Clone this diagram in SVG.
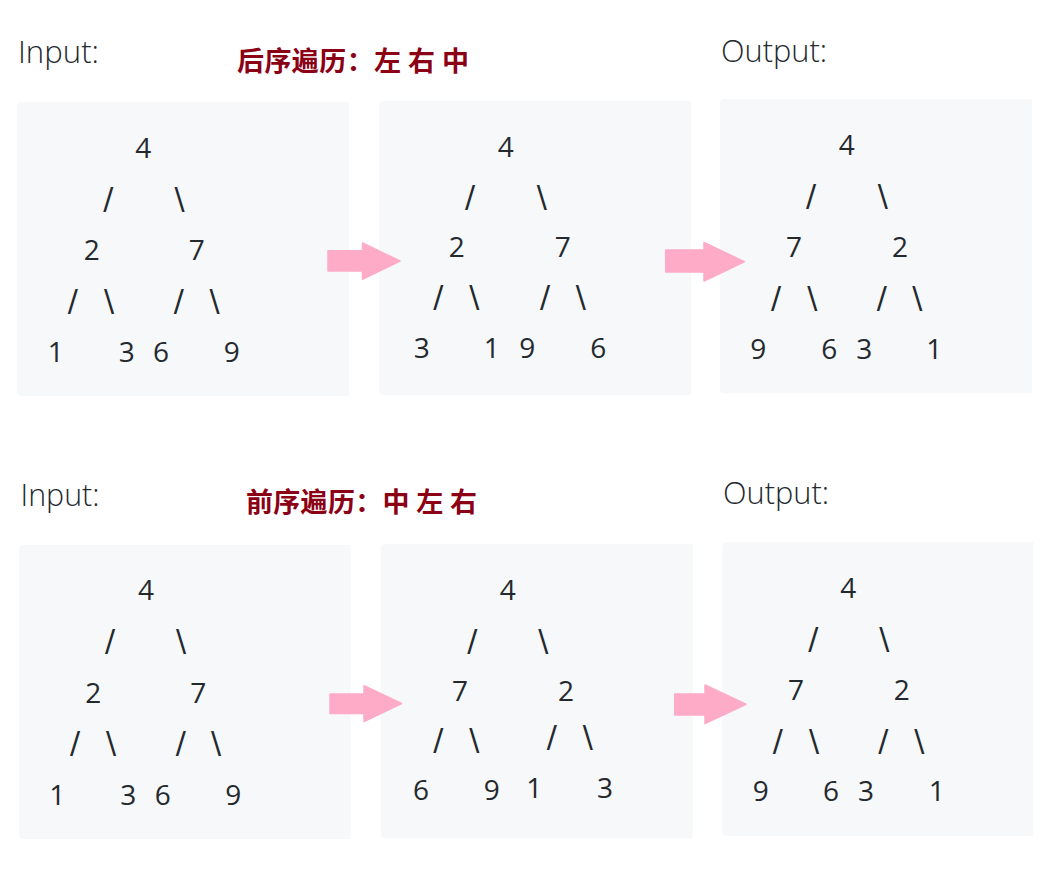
<svg xmlns="http://www.w3.org/2000/svg" width="1051" height="876" viewBox="0 0 1051 876">
<style>
.bg{fill:#ffffff}
.panel{fill:#f6f8fa}
.lbl{font-family:"Open Sans","Liberation Sans",sans-serif;font-weight:300;font-size:32px;fill:#24292e}
.ttl{font-family:"Noto Sans CJK SC","Noto Sans",sans-serif;font-weight:bold;font-size:27px;fill:#8b0014}
.d{font-family:"Open Sans","Liberation Sans",sans-serif;font-size:28px;fill:#24292e;text-anchor:middle}
.s{font-family:"DejaVu Sans",sans-serif;font-size:30px;fill:#24292e;text-anchor:middle}
.arrow{fill:#feabc8;stroke:#feabc8;stroke-width:1.5;stroke-linejoin:round}
</style>
<rect class="bg" x="0" y="0" width="1051" height="876"/>

<g id="labels">
<text class="lbl" x="18" y="62.5" textLength="81" lengthAdjust="spacingAndGlyphs">Input:</text>
<text class="lbl" x="721" y="61.5" textLength="106" lengthAdjust="spacingAndGlyphs">Output:</text>
<text class="lbl" x="20.5" y="505.5" textLength="79" lengthAdjust="spacingAndGlyphs">Input:</text>
<text class="lbl" x="723" y="504" textLength="106" lengthAdjust="spacingAndGlyphs">Output:</text>
<text class="ttl" x="237" y="71" textLength="232" lengthAdjust="spacing">后序遍历：左 右 中</text>
<text class="ttl" x="246" y="512" textLength="231" lengthAdjust="spacing">前序遍历：中 左 右</text>
</g>

<g id="panel1">
<path class="panel" d="M21.5,102 H349 V396 H21.5 Q17,396 17,391.5 V106.5 Q17,102 21.5,102 Z"/>
<text class="d" x="143.3" y="158">4</text>
<text class="s" x="108.3" y="209">/</text><text class="s" x="179.5" y="209">\</text>
<text class="d" x="91.7" y="260">2</text><text class="d" x="196.7" y="260">7</text>
<text class="s" x="72.8" y="310.5">/</text><text class="s" x="109" y="310.5">\</text><text class="s" x="178.8" y="310.5">/</text><text class="s" x="214.5" y="310.5">\</text>
<text class="d" x="55.7" y="362.3">1</text><text class="d" x="126.7" y="362.3">3</text><text class="d" x="161" y="362.3">6</text><text class="d" x="231.7" y="362.3">9</text>
</g>

<g id="panel2">
<path class="panel" d="M383.5,101 H691 V395 H383.5 Q379,395 379,390.5 V105.5 Q379,101 383.5,101 Z"/>
<text class="d" x="505.8" y="156.5">4</text>
<text class="s" x="470" y="207.2">/</text><text class="s" x="541.7" y="207.2">\</text>
<text class="d" x="456.7" y="256.5">2</text><text class="d" x="562.7" y="256.5">7</text>
<text class="s" x="438.3" y="307.2">/</text><text class="s" x="474.3" y="307.2">\</text><text class="s" x="545" y="307.2">/</text><text class="s" x="580.7" y="307.2">\</text>
<text class="d" x="421.7" y="357.6">3</text><text class="d" x="491.7" y="357.6">1</text><text class="d" x="527.3" y="357.6">9</text><text class="d" x="598.3" y="357.6">6</text>
</g>

<g id="panel3">
<path class="panel" d="M724.5,99 H1032 V393.3 H724.5 Q720,393.3 720,388.8 V103.5 Q720,99 724.5,99 Z"/>
<text class="d" x="846.7" y="154.8">4</text>
<text class="s" x="811" y="205.5">/</text><text class="s" x="882.7" y="205.5">\</text>
<text class="d" x="794" y="256.5">7</text><text class="d" x="900" y="256.5">2</text>
<text class="s" x="776" y="307.9">/</text><text class="s" x="812.3" y="307.9">\</text><text class="s" x="881.7" y="307.9">/</text><text class="s" x="917.3" y="307.9">\</text>
<text class="d" x="758.3" y="358.9">9</text><text class="d" x="829.3" y="358.9">6</text><text class="d" x="864.3" y="358.9">3</text><text class="d" x="934.3" y="358.9">1</text>
</g>

<g id="panel4">
<path class="panel" d="M23.5,545 H350.7 V839 H23.5 Q19,839 19,834.5 V549.5 Q19,545 23.5,545 Z"/>
<text class="d" x="146" y="599.8">4</text>
<text class="s" x="110" y="651.2">/</text><text class="s" x="181" y="651.2">\</text>
<text class="d" x="93.3" y="703">2</text><text class="d" x="198.3" y="703">7</text>
<text class="s" x="75" y="753.2">/</text><text class="s" x="111" y="753.2">\</text><text class="s" x="180.7" y="753.2">/</text><text class="s" x="216" y="753.2">\</text>
<text class="d" x="57.3" y="804.6">1</text><text class="d" x="128.3" y="804.6">3</text><text class="d" x="162.7" y="804.6">6</text><text class="d" x="233.3" y="804.6">9</text>
</g>

<g id="panel5">
<path class="panel" d="M385.5,544 H692.7 V838.3 H385.5 Q381,838.3 381,833.8 V548.5 Q381,544 385.5,544 Z"/>
<text class="d" x="507.7" y="599.8">4</text>
<text class="s" x="472.3" y="650.5">/</text><text class="s" x="543.3" y="650.5">\</text>
<text class="d" x="460" y="701.4">7</text><text class="d" x="566" y="701.4">2</text>
<text class="s" x="438.3" y="749.9">/</text><text class="s" x="474.3" y="749.9">\</text><text class="s" x="551.7" y="746.5">/</text><text class="s" x="587.7" y="746.5">\</text>
<text class="d" x="421" y="800.3">6</text><text class="d" x="491.7" y="800.3">9</text><text class="d" x="534.3" y="797.5">1</text><text class="d" x="605" y="797.9">3</text>
</g>

<g id="panel6">
<path class="panel" d="M726.8,542.3 H1033.3 V836 H726.8 Q722.3,836 722.3,831.5 V546.8 Q722.3,542.3 726.8,542.3 Z"/>
<text class="d" x="848.3" y="598">4</text>
<text class="s" x="813.3" y="648.9">/</text><text class="s" x="884.3" y="648.9">\</text>
<text class="d" x="796" y="699.8">7</text><text class="d" x="901.7" y="699.8">2</text>
<text class="s" x="777.7" y="750.5">/</text><text class="s" x="814" y="750.5">\</text><text class="s" x="883.3" y="750.5">/</text><text class="s" x="919.3" y="750.5">\</text>
<text class="d" x="760.7" y="801.3">9</text><text class="d" x="831" y="801.3">6</text><text class="d" x="866" y="801.3">3</text><text class="d" x="936.7" y="801.3">1</text>
</g>

<g id="connectors">
<path class="arrow" d="M328,250.8 H362.5 V243 L400,261 L362.5,279.3 V271 H328 Z"/>
<path class="arrow" d="M665.7,250 H704 V242.4 L744.3,261.7 L704,281 V272 H665.7 Z"/>
<path class="arrow" d="M330,694 H364 V685.7 L401.6,703.5 L364,721.6 V713.6 H330 Z"/>
<path class="arrow" d="M674.7,694 H705 V685 L746,704.3 L705,723.6 V715 H674.7 Z"/>
</g>
</svg>
